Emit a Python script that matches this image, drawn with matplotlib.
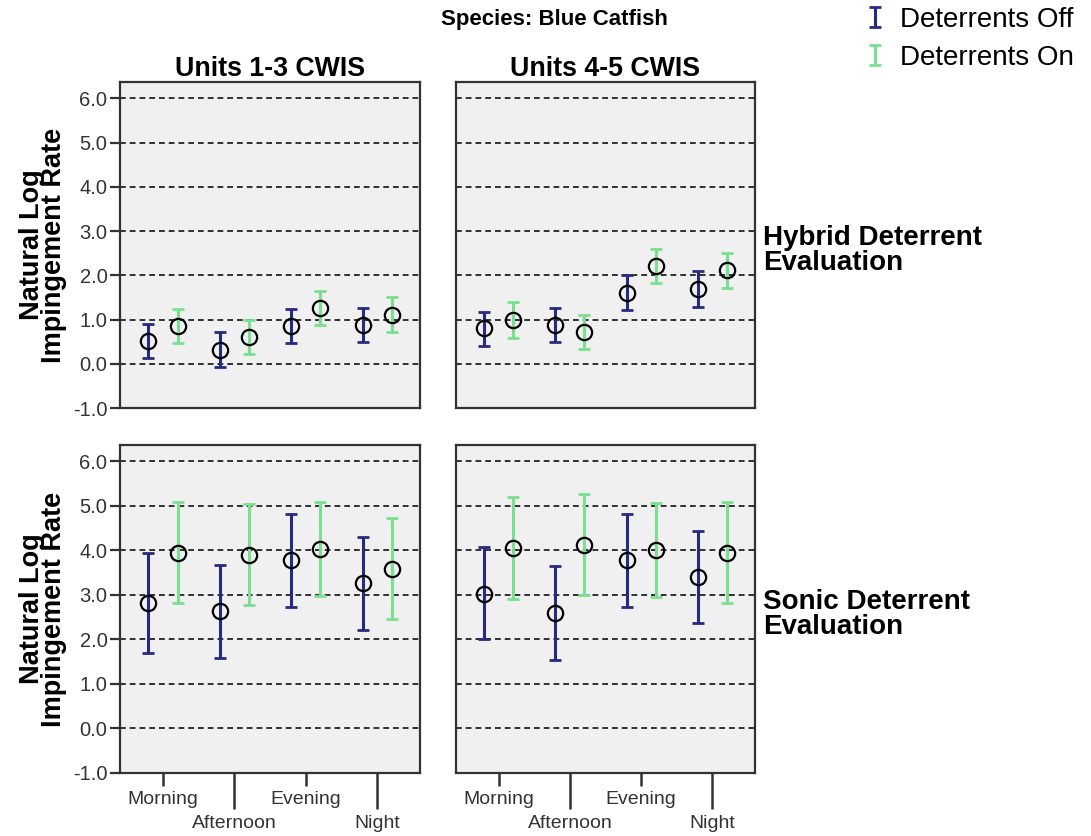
import matplotlib
matplotlib.use("Agg")
import matplotlib.pyplot as plt
from matplotlib.container import ErrorbarContainer
from matplotlib.legend_handler import HandlerErrorbar
import numpy as np

plt.rcParams['font.family'] = ['Liberation Sans', 'DejaVu Sans']

periods = ['Morning', 'Afternoon', 'Evening', 'Night']
columns = ['Units 1-3 CWIS', 'Units 4-5 CWIS']
rows = ['Hybrid Deterrent\nEvaluation', 'Sonic Deterrent\nEvaluation']
series = ['Deterrents Off', 'Deterrents On']

# Hybrid, Units 1-3
hyb13_off_mean = [0.52, 0.31, 0.86, 0.88]
hyb13_off_low = [0.14, -0.07, 0.47, 0.49]
hyb13_off_high = [0.90, 0.71, 1.24, 1.27]
hyb13_on_mean = [0.86, 0.61, 1.26, 1.11]
hyb13_on_low = [0.47, 0.23, 0.87, 0.72]
hyb13_on_high = [1.24, 0.98, 1.65, 1.50]
# Hybrid, Units 4-5
hyb45_off_mean = [0.80, 0.88, 1.61, 1.69]
hyb45_off_low = [0.41, 0.49, 1.21, 1.29]
hyb45_off_high = [1.18, 1.27, 2.01, 2.09]
hyb45_on_mean = [0.98, 0.72, 2.22, 2.11]
hyb45_on_low = [0.58, 0.33, 1.83, 1.71]
hyb45_on_high = [1.39, 1.10, 2.60, 2.50]
# Sonic, Units 1-3
son13_off_mean = [2.83, 2.63, 3.78, 3.27]
son13_off_low = [1.70, 1.59, 2.74, 2.21]
son13_off_high = [3.95, 3.68, 4.82, 4.31]
son13_on_mean = [3.94, 3.90, 4.03, 3.58]
son13_on_low = [2.81, 2.78, 2.98, 2.45]
son13_on_high = [5.09, 5.04, 5.09, 4.72]
# Sonic, Units 4-5
son45_off_mean = [3.02, 2.60, 3.78, 3.40]
son45_off_low = [2.00, 1.55, 2.73, 2.36]
son45_off_high = [4.07, 3.64, 4.82, 4.43]
son45_on_mean = [4.06, 4.12, 4.01, 3.94]
son45_on_low = [2.92, 2.99, 2.96, 2.81]
son45_on_high = [5.20, 5.26, 5.06, 5.09]

yticks = [-1.0, 0.0, 1.0, 2.0, 3.0, 4.0, 5.0, 6.0]

panels = [
    [(hyb13_off_mean, hyb13_off_low, hyb13_off_high, hyb13_on_mean, hyb13_on_low, hyb13_on_high),
     (hyb45_off_mean, hyb45_off_low, hyb45_off_high, hyb45_on_mean, hyb45_on_low, hyb45_on_high)],
    [(son13_off_mean, son13_off_low, son13_off_high, son13_on_mean, son13_on_low, son13_on_high),
     (son45_off_mean, son45_off_low, son45_off_high, son45_on_mean, son45_on_low, son45_on_high)],
]

BLUE = '#272a80'
GREEN = '#78e08e'
W, H = 1091, 836
fig = plt.figure(figsize=(W / 100, H / 100), dpi=100)

def px_axes(x0, y0, x1, y1):
    return fig.add_axes([x0 / W, 1 - y1 / H, (x1 - x0) / W, (y1 - y0) / H])

boxes = [[(120, 82, 420, 408), (456, 82, 755, 408)],
         [(120, 445, 420, 773), (456, 445, 755, 773)]]

x = np.arange(len(periods))
off = 0.205
handles = []
for r in range(2):
    for c in range(2):
        ax = px_axes(*boxes[r][c])
        ax.set_facecolor('#f0f0f0')
        om, ol, oh, nm, nl, nh = [np.array(a) for a in panels[r][c]]
        ax.set_xlim(-0.6, 3.6)
        ax.set_ylim(-1.0, 6.37)
        for yv in yticks[1:]:
            ax.axhline(yv, color='#222222', lw=1.3, dashes=(3.2, 2.2), zorder=1)
        e1 = ax.errorbar(x - off, om, yerr=[om - ol, oh - om], fmt='none',
                         ecolor=BLUE, elinewidth=2.2, capsize=4.5, capthick=2.0, zorder=3)
        e2 = ax.errorbar(x + off, nm, yerr=[nm - nl, nh - nm], fmt='none',
                         ecolor=GREEN, elinewidth=2.2, capsize=4.5, capthick=2.0, zorder=3)
        if r == 0 and c == 0:
            handles = [e1, e2]
        ax.plot(x - off, om, 'o', mfc='none', mec='black', ms=11, mew=1.6, zorder=4)
        ax.plot(x + off, nm, 'o', mfc='none', mec='black', ms=11, mew=1.6, zorder=4)
        for s in ax.spines.values():
            s.set_color('#333333')
            s.set_linewidth(1.6)
        ax.set_yticks(yticks)
        if c == 0:
            ax.set_yticklabels(['%.1f' % v for v in yticks], fontsize=14.5, color='#333333')
            ax.tick_params(axis='y', length=7, width=1.6, color='#333333', pad=2)
            ax.set_ylabel('Natural Log\nImpingement Rate', fontsize=19.5, fontweight='bold',
                          linespacing=0.8, labelpad=4)
        else:
            ax.tick_params(axis='y', left=False, labelleft=False)
        if r == 1:
            ax.set_xticks(x[[0, 2]])
            ax.set_xticklabels([periods[0], periods[2]], fontsize=14, color='#333333')
            ax.set_xticks(x[[1, 3]], minor=True)
            ax.set_xticklabels([periods[1], periods[3]], minor=True, fontsize=14, color='#333333')
            ax.tick_params(axis='x', which='major', length=9, width=1.8, color='#333333', pad=4)
            ax.tick_params(axis='x', which='minor', length=26, width=1.8, color='#333333', pad=4)
        else:
            ax.set_xticks([])
        if r == 0:
            ax.set_title(columns[c], fontsize=19.3, fontweight='bold', pad=4)
        if c == 1:
            ax.text(1.027, 0.482, rows[r], transform=ax.transAxes, fontsize=20,
                    fontweight='bold', va='center', ha='left', linespacing=0.95)

fig.text(554 / W, 1 - 20 / H, 'Species: Blue Catfish', fontsize=16, fontweight='bold',
         ha='center', va='center')
leg = fig.legend(handles, series, loc='upper right', bbox_to_anchor=(1.0, 1.012),
                 frameon=False, fontsize=20, handlelength=0.6, handletextpad=0.6,
                 labelspacing=0.45, borderaxespad=0.2,
                 handler_map={ErrorbarContainer: HandlerErrorbar(yerr_size=0.36)})

fig.savefig('out.png', dpi=100)
